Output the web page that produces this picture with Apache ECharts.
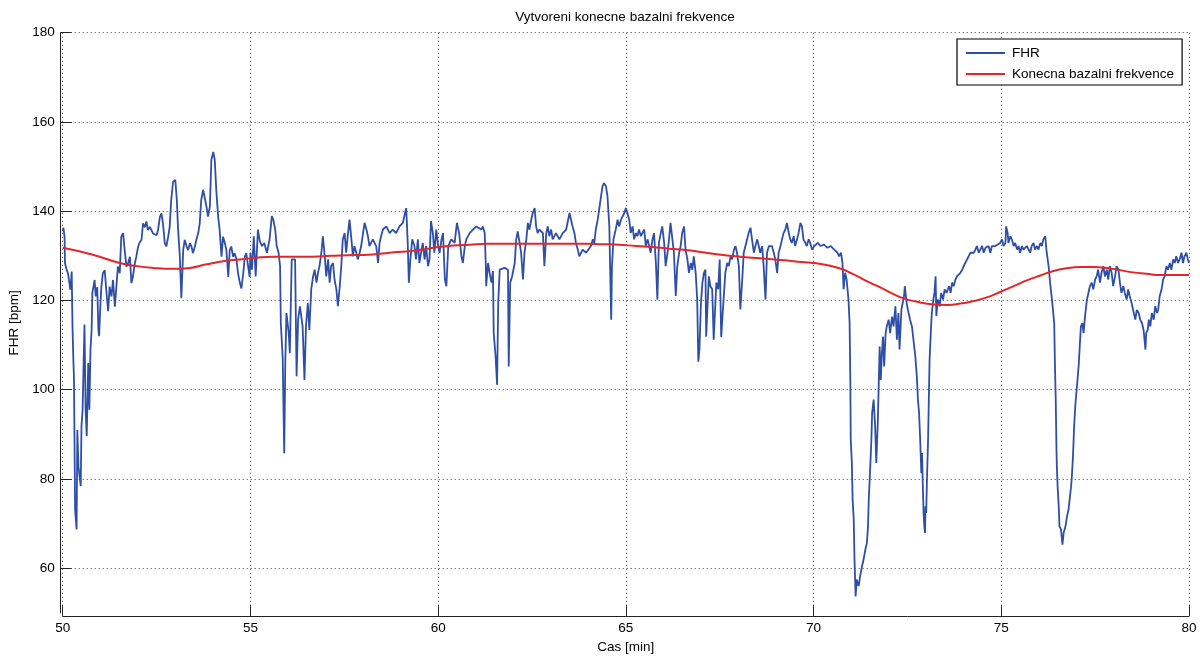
<!DOCTYPE html>
<html>
<head>
<meta charset="utf-8">
<script src="https://cdn.jsdelivr.net/npm/echarts@6/dist/echarts.min.js"></script>
<style>
  html, body { margin: 0; padding: 0; background: #fff; }
  #chart { width: 1200px; height: 657px; }
</style>
</head>
<body>
<div id="chart"></div>
<script>
// Fetal heart rate trace, [time (min), FHR (bpm)], split by 5-minute windows
const fhr50to55 = [[50.00,135.5],[50.02,136.3],[50.05,134.2],[50.06,128.4],[50.10,127.0],[50.14,126.1],[50.18,123.9],[50.20,122.4],[50.22,124.0],[50.24,126.5],[50.26,114.6],[50.28,107.8],[50.30,102.6],[50.33,73.1],[50.37,68.7],[50.39,91.0],[50.42,82.8],[50.48,78.4],[50.50,91.8],[50.53,95.5],[50.58,114.6],[50.61,95.5],[50.64,89.6],[50.68,106.0],[50.71,95.5],[50.74,109.0],[50.77,113.4],[50.79,121.7],[50.81,121.6],[50.85,124.6],[50.88,120.9],[50.92,123.0],[50.95,113.5],[50.97,112.0],[51.01,120.2],[51.03,123.1],[51.07,126.1],[51.12,126.8],[51.16,122.4],[51.21,117.6],[51.25,123.1],[51.30,120.9],[51.34,124.6],[51.39,118.6],[51.43,123.1],[51.47,127.6],[51.52,126.1],[51.56,134.3],[51.61,135.1],[51.65,131.3],[51.70,127.6],[51.74,128.3],[51.79,129.8],[51.83,123.9],[51.87,125.3],[51.92,128.3],[51.96,129.8],[52.01,132.1],[52.05,133.0],[52.10,133.6],[52.14,137.3],[52.19,136.4],[52.23,137.7],[52.27,135.8],[52.32,136.5],[52.36,136.2],[52.41,135.0],[52.45,135.4],[52.50,134.6],[52.54,135.8],[52.59,138.8],[52.63,139.5],[52.67,137.3],[52.72,132.8],[52.76,132.1],[52.81,134.3],[52.85,136.5],[52.89,142.5],[52.94,146.6],[53.00,147.0],[53.04,142.5],[53.07,136.5],[53.12,129.8],[53.16,120.5],[53.21,131.3],[53.25,133.6],[53.30,132.1],[53.34,131.3],[53.39,132.8],[53.43,132.1],[53.47,130.6],[53.52,132.1],[53.56,133.6],[53.61,135.1],[53.65,137.3],[53.69,142.5],[53.74,144.8],[53.78,145.1],[53.83,141.0],[53.87,138.8],[53.92,141.0],[53.96,151.5],[54.01,153.3],[54.05,151.5],[54.09,144.8],[54.14,138.8],[54.18,135.8],[54.23,129.8],[54.27,134.3],[54.32,132.8],[54.36,131.3],[54.41,125.3],[54.45,131.3],[54.49,132.1],[54.54,129.8],[54.58,130.6],[54.63,129.1],[54.67,126.1],[54.72,123.9],[54.76,122.7],[54.81,126.1],[54.85,129.8],[54.89,130.6],[54.94,127.6],[54.98,125.3]];

const fhr55to60 = [[55.00,130.7],[55.04,126.9],[55.09,134.4],[55.14,125.4],[55.20,135.9],[55.25,133.3],[55.31,132.2],[55.37,132.9],[55.44,130.7],[55.51,133.7],[55.57,138.9],[55.61,138.1],[55.66,135.9],[55.70,132.2],[55.75,130.7],[55.79,127.7],[55.81,114.9],[55.86,107.1],[55.90,85.8],[55.93,106.7],[55.96,117.2],[56.02,112.7],[56.05,108.2],[56.10,129.2],[56.19,129.2],[56.23,103.0],[56.27,115.7],[56.32,118.7],[56.39,114.2],[56.44,102.2],[56.48,114.2],[56.53,119.4],[56.57,113.4],[56.62,122.5],[56.67,125.4],[56.71,126.9],[56.76,124.0],[56.80,126.2],[56.84,127.7],[56.89,130.7],[56.93,134.4],[56.98,129.9],[57.02,125.4],[57.07,129.2],[57.11,124.0],[57.15,127.7],[57.20,128.4],[57.24,124.7],[57.29,122.5],[57.33,118.7],[57.38,123.2],[57.42,127.7],[57.46,133.7],[57.51,135.1],[57.55,130.7],[57.60,135.1],[57.64,138.1],[57.69,133.7],[57.73,129.9],[57.77,132.2],[57.82,130.7],[57.86,129.2],[57.91,130.7],[57.95,132.2],[58.00,135.1],[58.04,137.4],[58.09,135.9],[58.13,134.4],[58.17,132.2],[58.26,133.7],[58.35,132.2],[58.40,128.4],[58.44,132.9],[58.48,134.4],[58.53,135.9],[58.62,136.6],[58.71,135.1],[58.79,135.9],[58.88,135.1],[58.97,136.6],[59.06,137.4],[59.10,138.9],[59.15,140.7],[59.19,132.9],[59.22,124.0],[59.26,129.2],[59.31,133.7],[59.37,132.2],[59.41,129.2],[59.46,133.7],[59.50,128.4],[59.59,132.9],[59.64,129.2],[59.68,132.2],[59.73,127.7],[59.77,129.2],[59.81,137.8],[59.86,135.1],[59.90,130.7],[59.95,135.9]];

const fhr60to65 = [[60.00,132.2],[60.04,130.7],[60.09,133.7],[60.13,135.1],[60.18,124.7],[60.22,123.2],[60.27,132.2],[60.35,133.7],[60.44,132.9],[60.50,137.4],[60.56,135.1],[60.62,129.9],[60.66,128.4],[60.71,132.2],[60.75,133.7],[60.84,135.1],[60.93,135.9],[61.02,136.6],[61.06,137.0],[61.15,135.9],[61.19,136.6],[61.24,135.1],[61.27,127.7],[61.28,123.2],[61.33,128.4],[61.37,126.2],[61.42,124.0],[61.46,126.6],[61.48,112.7],[61.53,107.5],[61.57,101.1],[61.60,119.4],[61.64,126.9],[61.77,127.3],[61.86,126.9],[61.88,105.2],[61.92,124.0],[61.97,125.4],[62.04,128.4],[62.08,133.7],[62.12,135.5],[62.17,132.9],[62.21,130.7],[62.26,124.7],[62.30,130.7],[62.35,133.7],[62.39,137.4],[62.43,135.9],[62.48,138.1],[62.52,139.6],[62.57,140.7],[62.61,136.6],[62.65,135.1],[62.70,135.9],[62.79,135.1],[62.83,127.7],[62.88,135.1],[62.92,136.6],[62.96,134.4],[63.01,135.9],[63.05,133.7],[63.14,135.1],[63.23,133.7],[63.32,135.1],[63.41,135.9],[63.50,139.6],[63.54,138.1],[63.58,136.6],[63.63,135.1],[63.67,132.9],[63.72,131.4],[63.76,129.9],[63.85,131.4],[63.94,130.7],[63.98,130.3],[64.07,132.2],[64.12,133.7],[64.16,132.9],[64.20,135.9],[64.25,138.1],[64.29,140.4],[64.34,143.4],[64.38,145.6],[64.42,146.3],[64.47,145.6],[64.51,143.4],[64.56,136.6],[64.58,127.7],[64.61,115.7],[64.63,127.7],[64.67,133.7],[64.73,135.9],[64.78,138.1],[64.82,136.6],[64.87,138.1],[64.96,139.6]];

const fhr65to70 = [[65.00,140.7],[65.04,139.6],[65.09,138.1],[65.13,135.1],[65.18,136.6],[65.22,133.7],[65.27,135.1],[65.31,134.4],[65.35,135.9],[65.40,134.4],[65.49,135.9],[65.53,132.2],[65.58,133.7],[65.66,130.7],[65.71,133.7],[65.75,135.1],[65.80,128.4],[65.84,120.2],[65.88,132.9],[65.93,135.1],[65.97,136.6],[66.02,132.9],[66.06,127.7],[66.11,130.7],[66.15,133.7],[66.19,137.4],[66.24,133.7],[66.28,130.7],[66.33,121.0],[66.37,127.7],[66.42,130.7],[66.46,132.2],[66.50,135.1],[66.55,136.6],[66.59,131.4],[66.64,129.2],[66.68,126.2],[66.73,128.4],[66.77,126.9],[66.81,129.9],[66.86,126.2],[66.90,120.2],[66.93,106.3],[66.96,109.0],[67.00,119.4],[67.04,124.0],[67.08,126.2],[67.12,126.9],[67.14,111.9],[67.21,125.4],[67.25,123.2],[67.30,122.5],[67.34,111.2],[67.41,124.0],[67.46,122.5],[67.50,129.2],[67.54,111.8],[67.58,117.2],[67.65,126.2],[67.70,128.4],[67.74,127.7],[67.79,129.9],[67.83,129.2],[67.88,131.4],[67.92,132.2],[67.96,130.7],[68.01,127.7],[68.05,118.0],[68.10,124.7],[68.14,130.7],[68.23,133.7],[68.27,135.1],[68.32,136.3],[68.36,133.7],[68.41,130.7],[68.45,132.2],[68.50,133.7],[68.54,132.2],[68.58,130.7],[68.63,132.2],[68.67,127.7],[68.72,120.2],[68.76,130.7],[68.81,132.2],[68.89,132.2],[68.94,130.7],[68.98,129.2],[69.03,126.2],[69.07,130.7],[69.12,132.2],[69.16,133.7],[69.20,135.1],[69.25,135.9],[69.29,137.4],[69.34,135.1],[69.38,133.7],[69.42,132.9],[69.47,134.4],[69.51,132.2],[69.56,133.7],[69.60,135.1],[69.65,137.4],[69.69,136.6],[69.73,133.7],[69.78,132.9],[69.82,132.2],[69.87,133.7],[69.91,132.9],[69.96,131.4]];

const fhr70to75 = [[70.02,132.2],[70.11,132.9],[70.19,132.2],[70.28,132.5],[70.37,131.8],[70.46,132.2],[70.55,131.4],[70.64,130.7],[70.68,129.9],[70.73,130.7],[70.77,128.4],[70.80,122.5],[70.84,126.2],[70.88,124.7],[70.93,120.2],[70.96,114.9],[70.98,101.5],[70.99,88.8],[71.02,83.6],[71.04,75.4],[71.07,71.0],[71.09,62.1],[71.12,53.7],[71.15,57.5],[71.20,56.0],[71.24,58.2],[71.29,60.4],[71.33,61.9],[71.38,64.2],[71.42,65.7],[71.45,69.4],[71.47,75.4],[71.51,82.8],[71.54,88.8],[71.56,94.8],[71.60,97.8],[71.64,91.8],[71.67,83.6],[71.71,92.5],[71.73,99.3],[71.76,109.7],[71.79,102.2],[71.82,108.2],[71.85,111.9],[71.88,105.2],[71.92,112.7],[71.95,114.2],[72.00,115.7],[72.04,112.7],[72.09,116.4],[72.13,114.2],[72.18,118.7],[72.22,111.2],[72.26,117.2],[72.29,109.0],[72.34,118.0],[72.41,121.0],[72.43,123.2],[72.48,119.4],[72.51,118.0],[72.57,115.7],[72.62,114.2],[72.66,111.2],[72.71,107.5],[72.75,103.0],[72.78,97.8],[72.81,94.8],[72.84,88.8],[72.87,81.3],[72.89,85.8],[72.91,78.4],[72.93,72.4],[72.95,69.4],[72.97,67.9],[72.98,73.9],[73.00,72.4],[73.02,79.9],[73.05,88.8],[73.07,97.8],[73.09,106.7],[73.13,114.2],[73.15,117.2],[73.19,120.2],[73.22,121.7],[73.25,125.4],[73.27,116.5],[73.31,120.2],[73.36,118.7],[73.40,121.7],[73.45,120.2],[73.49,122.5],[73.54,121.7],[73.61,123.2],[73.65,121.7],[73.69,124.0],[73.73,123.2],[73.78,124.7],[73.82,125.4],[73.91,126.2],[73.96,126.9],[74.00,127.7],[74.04,128.4],[74.09,129.2],[74.13,129.9],[74.18,130.7],[74.22,131.0],[74.27,130.7],[74.31,131.4],[74.35,132.2],[74.40,130.7],[74.44,131.4],[74.49,132.2],[74.53,130.7],[74.58,131.8],[74.66,132.2],[74.71,130.7],[74.75,132.2],[74.84,132.2],[74.88,131.8],[74.97,132.9]];

const fhr75to80 = [[75.02,133.7],[75.06,132.2],[75.11,132.9],[75.13,136.6],[75.17,135.1],[75.19,132.9],[75.24,134.4],[75.28,133.7],[75.33,132.2],[75.37,132.9],[75.42,131.4],[75.46,132.2],[75.50,130.7],[75.55,132.2],[75.59,131.4],[75.68,132.2],[75.73,131.4],[75.77,130.7],[75.81,132.2],[75.86,132.9],[75.90,131.4],[75.95,132.2],[75.99,131.4],[76.04,132.9],[76.08,132.2],[76.12,133.7],[76.17,134.4],[76.21,130.7],[76.26,127.7],[76.30,124.0],[76.35,120.2],[76.39,120.1],[76.41,114.9],[76.43,105.2],[76.45,97.8],[76.47,86.6],[76.48,82.8],[76.50,78.4],[76.53,73.9],[76.55,69.4],[76.59,68.7],[76.63,65.3],[76.66,67.9],[76.71,69.4],[76.75,71.6],[76.79,73.1],[76.82,75.4],[76.86,78.4],[76.88,80.6],[76.91,85.1],[76.94,91.8],[76.97,96.3],[77.00,99.3],[77.03,102.2],[77.06,105.2],[77.09,109.7],[77.12,114.2],[77.16,114.9],[77.19,112.7],[77.24,117.2],[77.28,120.1],[77.32,120.2],[77.36,123.2],[77.41,124.0],[77.45,122.5],[77.50,124.7],[77.54,125.4],[77.58,126.9],[77.63,124.0],[77.67,126.2],[77.72,127.7],[77.76,125.4],[77.81,126.9],[77.85,124.7],[77.89,127.7],[77.94,126.2],[77.98,123.2],[78.03,125.4],[78.07,127.7],[78.12,126.9],[78.16,124.0],[78.20,121.7],[78.25,123.2],[78.29,121.7],[78.34,120.2],[78.38,122.5],[78.42,121.0],[78.47,119.5],[78.53,117.2],[78.57,115.7],[78.61,117.9],[78.66,117.2],[78.70,115.7],[78.75,114.9],[78.79,113.4],[78.84,109.0],[78.86,112.7],[78.90,113.4],[78.93,115.7],[78.97,114.2],[79.01,117.2],[79.06,115.7],[79.10,118.7],[79.15,117.2],[79.18,118.0],[79.22,121.0],[79.27,122.5],[79.31,124.7],[79.35,125.4],[79.40,127.7],[79.44,126.9],[79.49,128.4],[79.53,126.9],[79.58,129.2],[79.62,128.4],[79.66,129.9],[79.71,128.4],[79.75,129.2],[79.80,130.7],[79.84,128.4],[79.88,129.9],[79.93,130.7],[79.97,129.2],[80.00,128.4]];

// Final baseline estimate, [time (min), bpm]
const baseline = [[50.0,131.8],[50.78,130.3],[51.52,128.4],[51.97,127.7],[52.41,127.3],[52.94,127.1],[53.39,127.3],[53.83,128.1],[54.27,128.8],[54.72,129.2],[55.16,129.6],[55.6,129.8],[56.49,129.8],[56.93,129.9],[57.38,130.1],[58.26,130.3],[58.71,130.7],[59.15,131.0],[59.59,131.4],[60.0,132.0],[60.4,132.3],[60.84,132.5],[61.29,132.7],[62.17,132.7],[63.06,132.7],[63.94,132.7],[64.38,132.6],[64.82,132.5],[65.27,132.2],[65.71,132.0],[66.15,131.6],[66.59,131.3],[67.04,130.8],[67.48,130.3],[67.92,129.9],[68.36,129.6],[68.81,129.3],[69.25,129.0],[69.69,128.6],[70.02,128.4],[70.37,127.9],[70.73,127.1],[71.08,125.8],[71.43,124.3],[71.88,122.5],[72.32,120.7],[72.76,119.7],[73.2,119.1],[73.56,119.0],[73.91,119.3],[74.27,119.9],[74.62,120.7],[74.97,121.9],[75.33,123.2],[75.68,124.5],[76.04,125.6],[76.39,126.6],[76.74,127.2],[77.1,127.5],[77.45,127.5],[77.81,127.3],[78.16,126.8],[78.51,126.3],[78.87,126.0],[79.22,125.7],[79.58,125.7],[80.0,125.7]];

const yTicks = [60, 80, 100, 120, 140, 160, 180];
const seriesNames = ['FHR', 'Konecna bazalni frekvence'];

const fhr = [].concat(fhr50to55, fhr55to60, fhr60to65, fhr65to70, fhr70to75, fhr75to80);

const FONT = '"Liberation Sans", Arial, Helvetica, sans-serif';
const txt = { fontFamily: FONT, fontSize: 13.5, color: '#000' };

const chart = echarts.init(document.getElementById('chart'), null, { renderer: 'canvas' });
chart.setOption({
  animation: false,
  backgroundColor: '#fff',
  title: {
    text: 'Vytvoreni konecne bazalni frekvence',
    left: 625,
    textAlign: 'center',
    top: 10,
    padding: 0,
    textStyle: Object.assign({}, txt, { fontWeight: 'normal' })
  },
  legend: {
    data: seriesNames,
    orient: 'vertical',
    left: 957,
    top: 39,
    padding: [7, 8, 4, 9],
    icon: 'rect',
    itemWidth: 39,
    itemHeight: 2,
    itemGap: 7,
    backgroundColor: '#fff',
    borderColor: '#000',
    borderWidth: 1.2,
    borderRadius: 0,
    textStyle: Object.assign({}, txt, { lineHeight: 14, padding: [0, 0, 0, 2] })
  },
  grid: {
    left: 62.7,
    right: 11,
    top: 32.7,
    bottom: 44.1,
    containLabel: false,
    outerBoundsMode: 'none'
  },
  xAxis: {
    type: 'value',
    min: 50,
    max: 80,
    interval: 5,
    offset: 3,
    name: 'Cas [min]',
    nameLocation: 'middle',
    nameGap: 24,
    nameTextStyle: txt,
    axisLine: { show: true, lineStyle: { color: '#222', width: 1 } },
    axisTick: { show: true, inside: true, length: 11, lineStyle: { color: '#222', width: 1 } },
    axisLabel: Object.assign({ margin: 5 }, txt),
    splitLine: { show: true, lineStyle: { color: '#444', width: 1, type: [1, 3] } }
  },
  yAxis: {
    type: 'value',
    min: 50,
    max: 180,
    offset: 2,
    name: 'FHR [bpm]',
    nameLocation: 'middle',
    nameGap: 38,
    nameRotate: 90,
    nameTextStyle: txt,
    axisLine: { show: true, lineStyle: { color: '#222', width: 1 } },
    axisTick: { show: true, inside: true, length: 11, customValues: yTicks, lineStyle: { color: '#222', width: 1 } },
    axisLabel: Object.assign({ margin: 6, customValues: yTicks }, txt),
    splitLine: { show: true, lineStyle: { color: '#444', width: 1, type: [1, 3] } }
  },
  series: [
    {
      name: seriesNames[0],
      type: 'line',
      data: fhr,
      symbol: 'none',
      showSymbol: false,
      lineStyle: { color: '#2f4fa6', width: 1.8 },
      itemStyle: { color: '#2f4fa6' },
      z: 2
    },
    {
      name: seriesNames[1],
      type: 'line',
      data: baseline,
      smooth: true,
      symbol: 'none',
      showSymbol: false,
      lineStyle: { color: '#e3262a', width: 2 },
      itemStyle: { color: '#e3262a' },
      z: 3
    }
  ]
});
</script>
</body>
</html>
